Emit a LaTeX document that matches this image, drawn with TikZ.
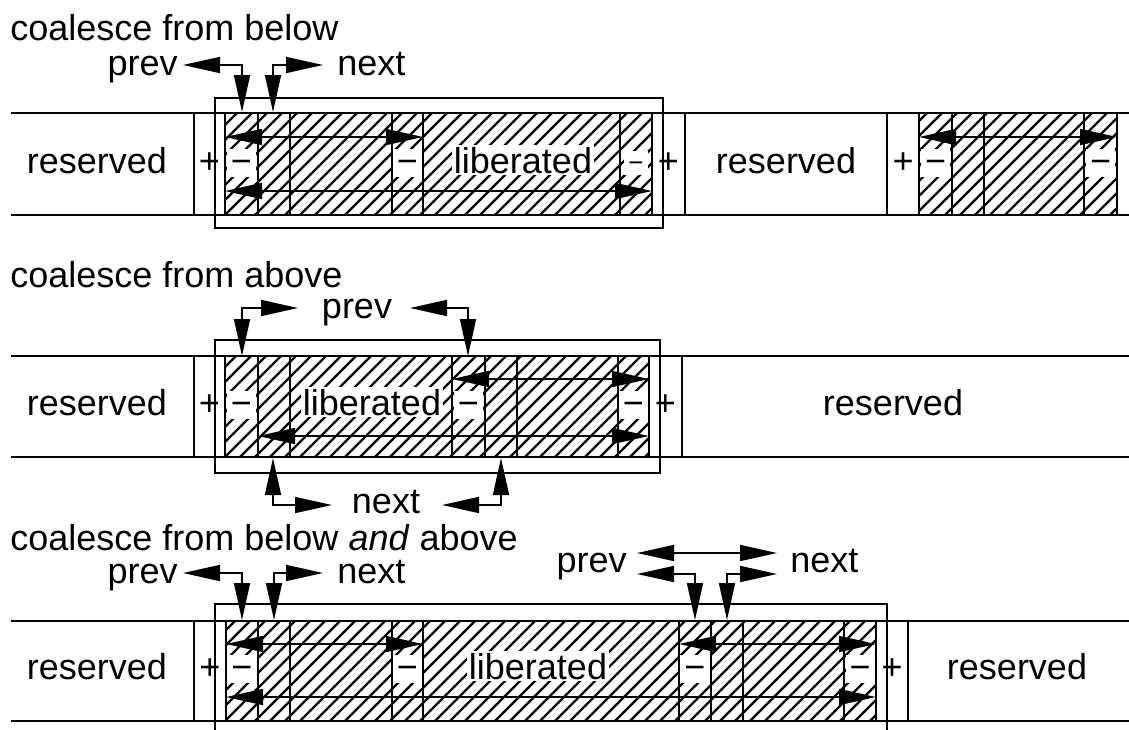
\documentclass[tikz,border=0pt]{standalone}
\usepackage{fontspec}
\setmainfont{Liberation Sans}
\usetikzlibrary{arrows.meta}
\newcommand\hatchrow[4]{% x1 ytop x2 ybot
  \begin{scope}
    \clip (#1,#2) rectangle (#3,#4);
    \foreach \c in {0,15,...,1150} \draw[hatchline] (\c,#4) -- ++(110,-110);
  \end{scope}}
\begin{document}
\begin{tikzpicture}[x=0.5pt,y=-0.5pt,
  box/.style={line width=1pt},
  hatchline/.style={line width=1.1pt},
  arr/.style={line width=0.8pt,{Triangle[length=18.5pt,width=8pt]}-{Triangle[length=18.5pt,width=8pt]}},
  lbl/.style={font=\fontsize{18}{21}\selectfont, inner sep=0pt},
  wlbl/.style={lbl, fill=white, inner sep=1pt},
  mlbl/.style={lbl, fill=white, inner xsep=2pt, inner ysep=1pt, text height=11pt, text depth=1pt},
  smwlbl/.style={mlbl, font=\fontsize{13}{15}\selectfont, text height=9pt},
]
\useasboundingbox (0,0) rectangle (1129,729);

% ---------- titles
\node[lbl,anchor=base west] (t1) at (10,40) {coalesce from below};
\node[lbl,anchor=base west] (t2) at (10,287) {coalesce from above};
\node[lbl,anchor=base west] (t3) at (10,550) {coalesce from below \textit{and} above};

% ================= ROW 1 =================
\hatchrow{225}{113}{652}{215}
\hatchrow{919}{113}{1117}{215}
\node[lbl,anchor=base] (r1res1) at (97,173) {reserved};
\node[lbl,anchor=base] (r1p1) at (209.5,173) {+};
\node[mlbl,anchor=base] (r1m1) at (241.5,173) {−};
\node[mlbl,anchor=base] (r1m2) at (407.5,173) {−};
\node[wlbl,anchor=base] (r1lib) at (523,173) {liberated};
\node[smwlbl,anchor=base] (r1m3) at (636,171) {−};
\node[lbl,anchor=base] (r1p2) at (668.5,173) {+};
\node[lbl,anchor=base] (r1res2) at (786,173) {reserved};
\node[lbl,anchor=base] (r1p3) at (903,173) {+};
\node[mlbl,anchor=base] (r1m4) at (935.5,173) {−};
\node[mlbl,anchor=base] (r1m5) at (1100.5,173) {−};
\draw[box] (11,113) -- (1129,113) (11,215) -- (1129,215);
\foreach \x in {194,225,258,290,392,423,620,652,685,887,919,952,984,1084,1117}
  \draw[box] (\x,113) -- (\x,215);
\coordinate (r1a1) at (225,137); \coordinate (r1a2) at (423,137);
\coordinate (r1b1) at (225,191); \coordinate (r1b2) at (652,191);
\coordinate (r1c1) at (919,137); \coordinate (r1c2) at (1117,137);
\draw[arr] (r1a1) -- (r1a2);
\draw[arr] (r1b1) -- (r1b2);
\draw[arr] (r1c1) -- (r1c2);
\draw[box] (215,98) rectangle (663,228);
\node[lbl,anchor=base east] (r1prev) at (178,75) {prev};
\node[lbl,anchor=base west] (r1next) at (337,75) {next};
\coordinate (r1pt) at (183,65); \coordinate (r1pd) at (242,112);
\coordinate (r1nt) at (323,65); \coordinate (r1nd) at (273,112);
\draw[arr] (r1pt) -| (r1pd);
\draw[arr] (r1nt) -| (r1nd);

% ================= ROW 2 =================
\hatchrow{225}{356}{649}{457}
\node[lbl,anchor=base] (r2res1) at (97,415) {reserved};
\node[lbl,anchor=base] (r2p1) at (209.5,415) {+};
\node[mlbl,anchor=base] (r2m1) at (241.5,415) {−};
\node[wlbl,anchor=base] (r2lib) at (372,415) {liberated};
\node[mlbl,anchor=base] (r2m2) at (468.5,415) {−};
\node[mlbl,anchor=base] (r2m3) at (633.5,415) {−};
\node[lbl,anchor=base] (r2p2) at (665.5,415) {+};
\node[lbl,anchor=base] (r2res2) at (893,415) {reserved};
\draw[box] (11,356) -- (1129,356) (11,457) -- (1129,457);
\foreach \x in {194,225,258,290,452,485,517,618,649,682}
  \draw[box] (\x,356) -- (\x,457);
\coordinate (r2a1) at (452,379); \coordinate (r2a2) at (649,379);
\coordinate (r2b1) at (258,436); \coordinate (r2b2) at (649,436);
\draw[arr] (r2a1) -- (r2a2);
\draw[arr] (r2b1) -- (r2b2);
\draw[box] (215,340) rectangle (660,473);
\node[lbl,anchor=base] (r2prev) at (357,318) {prev};
\node[lbl,anchor=base] (r2next) at (386,513) {next};
\coordinate (r2pt1) at (298,308); \coordinate (r2pd1) at (242,356);
\coordinate (r2pt2) at (410,308); \coordinate (r2pd2) at (468,356);
\coordinate (r2nt1) at (332,505); \coordinate (r2nd1) at (273,458);
\coordinate (r2nt2) at (442,505); \coordinate (r2nd2) at (501,458);
\draw[arr] (r2pt1) -| (r2pd1);
\draw[arr] (r2pt2) -| (r2pd2);
\draw[arr] (r2nt1) -| (r2nd1);
\draw[arr] (r2nt2) -| (r2nd2);

% ================= ROW 3 =================
\hatchrow{226}{621}{876}{721}
\node[lbl,anchor=base] (r3res1) at (97,679) {reserved};
\node[lbl,anchor=base] (r3p1) at (210,679) {+};
\node[mlbl,anchor=base] (r3m1) at (242,679) {−};
\node[mlbl,anchor=base] (r3m2) at (407.5,679) {−};
\node[wlbl,anchor=base] (r3lib) at (538,679) {liberated};
\node[mlbl,anchor=base] (r3m3) at (695,679) {−};
\node[mlbl,anchor=base] (r3m4) at (860,679) {−};
\node[lbl,anchor=base] (r3p2) at (892,679) {+};
\node[lbl,anchor=base] (r3res2) at (1017,679) {reserved};
\draw[box] (11,621) -- (1129,621) (11,721) -- (1129,721);
\foreach \x in {194,226,258,290,392,423,679,711,743,844,876,908}
  \draw[box] (\x,621) -- (\x,721);
\coordinate (r3a1) at (226,644); \coordinate (r3a2) at (423,644);
\coordinate (r3c1) at (679,644); \coordinate (r3c2) at (876,644);
\coordinate (r3b1) at (226,697); \coordinate (r3b2) at (876,697);
\draw[arr] (r3a1) -- (r3a2);
\draw[arr] (r3c1) -- (r3c2);
\draw[arr] (r3b1) -- (r3b2);
\draw[box] (215,745) -- (215,604) -- (887,604) -- (887,745);
\node[lbl,anchor=base east] (r3prev) at (178,583) {prev};
\node[lbl,anchor=base west] (r3next) at (337,583) {next};
\node[lbl,anchor=base east] (r3prevb) at (627,572) {prev};
\node[lbl,anchor=base west] (r3nextb) at (790,572) {next};
\coordinate (r3pt) at (183,573); \coordinate (r3pd) at (242,620);
\coordinate (r3nt) at (323,573); \coordinate (r3nd) at (274,620);
\draw[arr] (r3pt) -| (r3pd);
\draw[arr] (r3nt) -| (r3nd);
\coordinate (r3pt2) at (637,574); \coordinate (r3pd2) at (695,620);
\coordinate (r3nt2) at (777,574); \coordinate (r3nd2) at (727,620);
\coordinate (r3dl) at (637,553); \coordinate (r3dr) at (777,553);
\draw[arr] (r3pt2) -| (r3pd2);
\draw[arr] (r3nt2) -| (r3nd2);
\draw[arr] (r3dl) -- (r3dr);
\end{tikzpicture}
\end{document}
